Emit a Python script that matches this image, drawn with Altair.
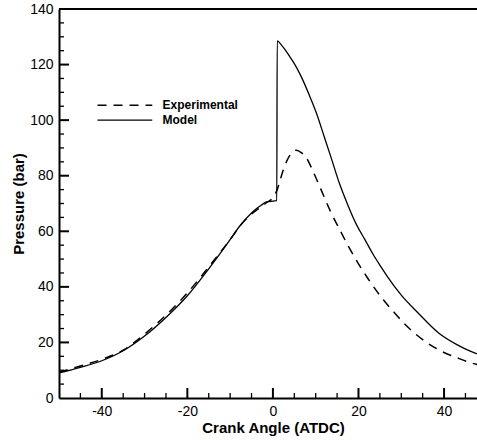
import altair as alt
import pandas as pd

# Experimental (dashed) pressure trace
exp_x = [-50, -45, -40, -35, -30, -25, -20, -15, -10, -7.5, -5, -3, -1, 0, 1, 2.4, 3.4, 4.3, 5.5, 6.7, 7.8, 9.4, 11.3, 13.5, 15.6, 17.5, 20, 22.2, 24, 26, 28.5, 31.1, 35, 38.8, 43, 46.6, 48]
exp_y = [9.3, 11.5, 13.9, 17.2, 23.0, 29.8, 37.8, 47.2, 57.0, 62.3, 66.2, 68.6, 70.8, 72.0, 75.0, 82.0, 85.8, 88.0, 89.2, 88.2, 86.5, 81.5, 74.8, 67.0, 60.6, 55.0, 48.3, 43.0, 39.0, 35.0, 30.5, 26.2, 21.0, 17.3, 14.5, 12.5, 12.0]

# Model (solid) pressure trace
mod_x = [-50, -45, -40, -35, -30, -25, -20, -15, -10, -7.7, -5, -3.8, -2.5, -1.5, 0.9, 1.0, 2, 3, 4, 5.5, 7, 8.5, 10.2, 12, 13.6, 15.6, 17.5, 19.5, 21.5, 23.3, 25, 26.8, 30, 34, 38.8, 43, 47.4, 48]
mod_y = [9.0, 11.0, 13.4, 17.0, 22.3, 29.0, 36.8, 46.5, 57.0, 62.0, 66.6, 68.2, 69.6, 70.6, 71.0, 128.5, 127.0, 125.0, 122.7, 119.0, 114.4, 109.0, 102.4, 94.0, 86.5, 77.0, 69.5, 62.5, 57.0, 52.0, 47.8, 43.6, 37.0, 30.5, 23.3, 19.2, 16.1, 15.8]

x_major = [-40, -20, 0, 20, 40]
x_minor = [-45, -35, -30, -25, -15, -10, -5, 5, 10, 15, 25, 30, 35, 45]
y_major = [20, 40, 60, 80, 100, 120]
y_minor = [5, 10, 15, 25, 30, 35, 45, 50, 55, 65, 70, 75, 85, 90, 95, 105, 110, 115, 125, 130, 135]

legend_labels = ["Experimental", "Model"]
legend_y = [105.4, 100.0]
legend_x_start = -41.0
legend_x_end = -28.2
legend_text_x = -25.8

X_MIN, X_MAX = -50, 47.7
Y_MIN, Y_MAX = 0, 140
W, H = 418, 389
FONT = "Liberation Sans"

xs = alt.Scale(domain=[X_MIN, X_MAX], nice=False, zero=False)
ys = alt.Scale(domain=[Y_MIN, Y_MAX], nice=False, zero=False)
x_axis = alt.Axis(values=x_major, ticks=False, grid=False, labelExpr="datum.value",
                  domainColor="black", domainWidth=2, labelFont=FONT, labelFontSize=14,
                  labelColor="black", labelPadding=6, titleFont=FONT, titleFontSize=15,
                  titleFontWeight="bold", titleColor="black", titlePadding=2,
                  titleX=214)
y_axis = alt.Axis(values=[0] + y_major + [140], ticks=False, grid=False, labelExpr="datum.value",
                  domainColor="black", domainWidth=2, labelFont=FONT, labelFontSize=14,
                  labelColor="black", labelPadding=6, titleFont=FONT, titleFontSize=15,
                  titleFontWeight="bold", titleColor="black", titlePadding=3)
XT = "Crank Angle (ATDC)"
YT = "Pressure (bar)"

exp_df = pd.DataFrame({"x": exp_x, "y": exp_y, "i": range(len(exp_x))})
mod_df = pd.DataFrame({"x": mod_x, "y": mod_y, "i": range(len(mod_x))})

def X(field="x"):
    return alt.X(f"{field}:Q", scale=xs, axis=x_axis, title=XT)

def Y(field="y"):
    return alt.Y(f"{field}:Q", scale=ys, axis=y_axis, title=YT)

exp_line = alt.Chart(exp_df).mark_line(color="black", strokeWidth=1.5, strokeDash=[9, 7],
                                       interpolate="monotone", clip=True).encode(
    x=X(), y=Y(), order="i:Q")
mod_line = alt.Chart(mod_df).mark_line(color="black", strokeWidth=1.3,
                                       interpolate="monotone", clip=True).encode(
    x=X(), y=Y(), order="i:Q")

xmaj = alt.Chart(pd.DataFrame({"x": x_major})).mark_rule(color="black", strokeWidth=2).encode(
    x=X(), y=alt.value(H), y2=alt.value(H - 10))
xmin = alt.Chart(pd.DataFrame({"x": x_minor})).mark_rule(color="black", strokeWidth=1.3).encode(
    x=X(), y=alt.value(H), y2=alt.value(H - 5))
ymaj = alt.Chart(pd.DataFrame({"y": y_major})).mark_rule(color="black", strokeWidth=2).encode(
    y=Y(), x=alt.value(0), x2=alt.value(10))
ymin = alt.Chart(pd.DataFrame({"y": y_minor})).mark_rule(color="black", strokeWidth=1.3).encode(
    y=Y(), x=alt.value(0), x2=alt.value(5))

top = alt.Chart(pd.DataFrame({"x": [X_MIN], "x2": [X_MAX + 1], "y": [Y_MAX]})).mark_rule(
    color="black", strokeWidth=2, clip=False).encode(x=X(), x2="x2:Q", y=Y())

leg_df = pd.DataFrame({"label": legend_labels, "y": legend_y,
                       "x": [legend_x_start] * 2, "x2": [legend_x_end] * 2,
                       "tx": [legend_text_x] * 2})
leg_dash = alt.Chart(leg_df.iloc[[0]]).mark_rule(color="black", strokeWidth=1.5, strokeDash=[9, 7]).encode(
    x=X(), x2="x2:Q", y=Y())
leg_solid = alt.Chart(leg_df.iloc[[1]]).mark_rule(color="black", strokeWidth=1.3).encode(
    x=X(), x2="x2:Q", y=Y())
leg_text = alt.Chart(leg_df).mark_text(align="left", baseline="middle", font=FONT, fontSize=12,
                                       fontWeight="bold", color="black").encode(
    x=X("tx"), y=Y(), text="label:N")

chart = alt.layer(
    exp_line, mod_line, xmaj, xmin, ymaj, ymin, top, leg_dash, leg_solid, leg_text
).properties(
    width=W, height=H,
    autosize=alt.AutoSizeParams(type="none"),
    padding={"left": 59, "top": 9, "right": 0, "bottom": 42},
    background="white",
).configure_view(stroke=None)

chart.save("out.html", embed_options={"renderer": "svg", "actions": False})
